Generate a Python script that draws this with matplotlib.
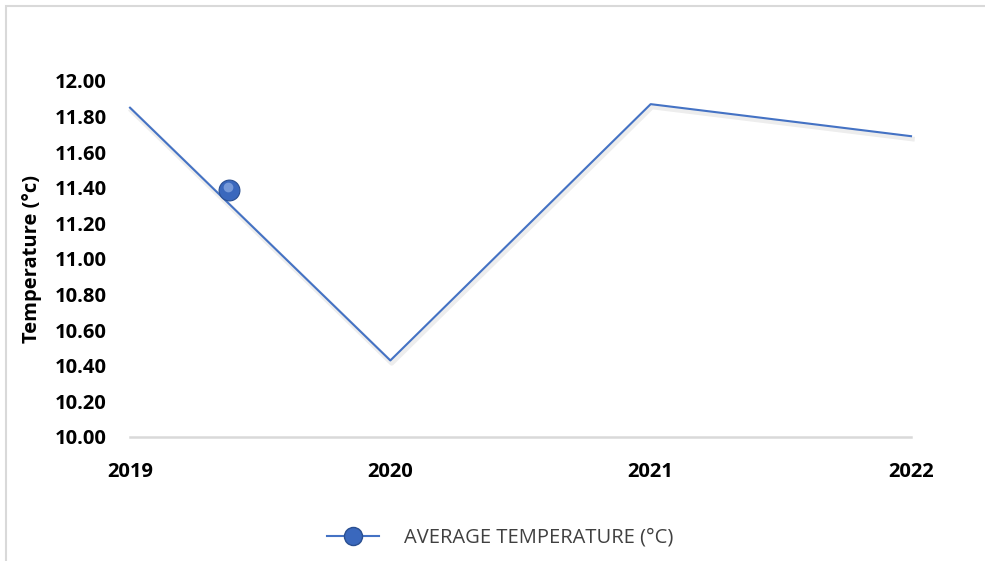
import matplotlib
matplotlib.use("Agg")
import matplotlib.pyplot as plt
import matplotlib.patheffects as pe
from matplotlib.patches import Rectangle
from matplotlib.lines import Line2D

# data
years = [2019, 2020, 2021, 2022]
avg_temp = [11.85, 10.43, 11.87, 11.69]
# stray marker that sits off the series in the original
marker_x = [2019.38]
marker_y = [11.39]
y_ticks = [10.0, 10.2, 10.4, 10.6, 10.8, 11.0, 11.2, 11.4, 11.6, 11.8, 12.0]
series_name = "AVERAGE TEMPERATURE (°C)"
y_label = "Temperature (°c)"

blue = "#4472C4"
W, H = 985, 561

plt.rcParams['font.family'] = ['Open Sans', 'DejaVu Sans']
fig = plt.figure(figsize=(W / 100, H / 100), dpi=100)

# outer chart frame (light gray, cut off at right/bottom)
fig.patches.append(Rectangle((6 / W, -0.1), 1.2, 1 - 6 / H + 0.1, transform=fig.transFigure,
                             fill=False, edgecolor="#d9d9d9", linewidth=1.5))

ax = fig.add_axes([130 / W, 1 - 437 / H, (911 - 130) / W, (437 - 81) / H])
ax.plot(years, avg_temp, color=blue, linewidth=1.5, clip_on=False,
        path_effects=[pe.SimpleLineShadow(offset=(1, -2), shadow_color="#000000", alpha=0.07, linewidth=3.5),
                      pe.Normal()])
ax.plot(marker_x, marker_y, linestyle="none", marker="o", markersize=15,
        markerfacecolor="#3a68bd", markeredgecolor="#2a4f91", markeredgewidth=0.8, clip_on=False)
ax.plot([marker_x[0] - 0.004], [marker_y[0] + 0.012], linestyle="none", marker="o", markersize=7,
        markerfacecolor="#a9c3f0", markeredgecolor="none", alpha=0.55, clip_on=False)

ax.set_xlim(2019, 2022)
ax.set_ylim(10, 12)
ax.set_yticks(y_ticks)
ax.set_yticklabels(["%.2f" % v for v in y_ticks], fontweight="bold", fontsize=14.5)
ax.set_xticks(years)
ax.set_xticklabels([str(y) for y in years], fontweight="bold", fontsize=14.5)
ax.tick_params(axis="y", length=0, pad=17)
ax.tick_params(axis="x", length=0, pad=18)
for s in ["top", "right", "left"]:
    ax.spines[s].set_visible(False)
ax.spines["bottom"].set_color("#d9d9d9")
ax.spines["bottom"].set_linewidth(1.8)
ax.set_ylabel(y_label, fontweight="bold", fontsize=14.5)
ax.yaxis.set_label_coords(-88 / (911 - 130), 0.5)

handle = Line2D([], [], color=blue, linewidth=1.5, marker="o", markersize=13,
                markerfacecolor="#3a68bd", markeredgecolor="#2a4f91")
fig.legend([handle], [series_name], loc="center", bbox_to_anchor=(500 / W, 1 - 538 / H),
           frameon=False, handlelength=2.6, handletextpad=1.2, fontsize=14.5,
           labelcolor="#404040")

fig.savefig("out.png", dpi=100)
